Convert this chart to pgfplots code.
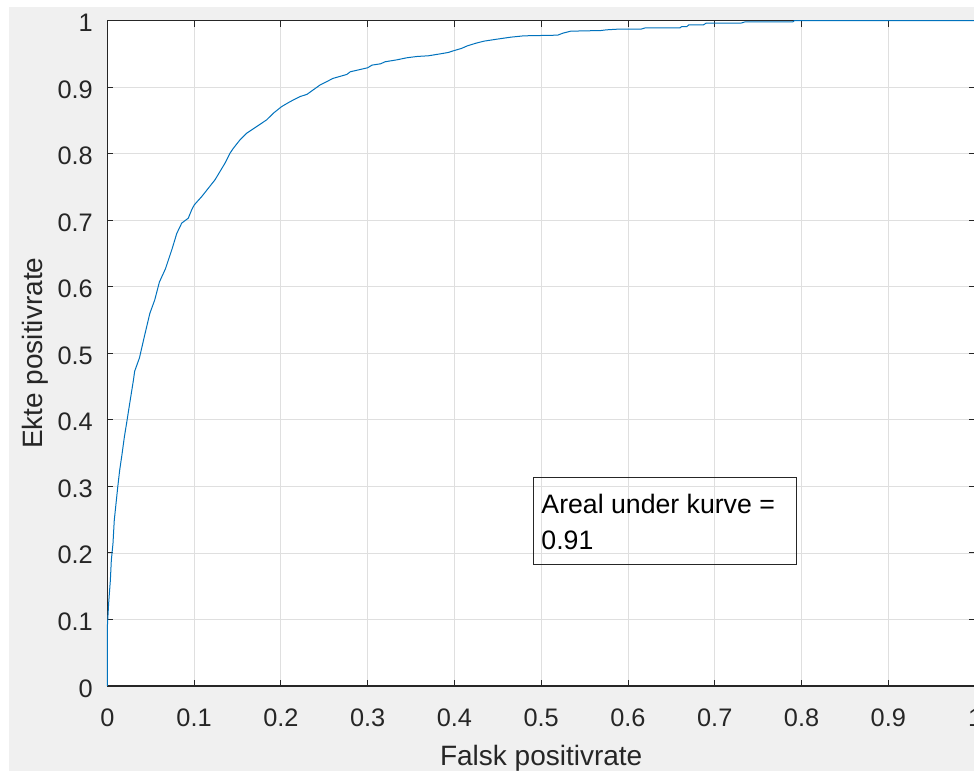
\documentclass[border=0pt]{standalone}
\usepackage{fontspec}
\setmainfont{Liberation Sans}
\usepackage{pgfplots}
\pgfplotsset{compat=1.18}

\definecolor{figgray}{HTML}{F0F0F0}
\definecolor{axisgray}{HTML}{262626}
\definecolor{gridgray}{HTML}{DFDFDF}
\definecolor{rocblue}{HTML}{0072BD}

\begin{document}
\begin{tikzpicture}
% figure background
\fill[white] (0,0) rectangle (730.5pt,578.25pt);
\fill[figgray] (6.75pt,0) rectangle (730.5pt,573pt);

\begin{axis}[
  at={(80.5pt,63.75pt)}, anchor=south west,
  scale only axis, width=650.8pt, height=499.1pt,
  xmin=0, xmax=1, ymin=0, ymax=1,
  axis background/.style={fill=white},
  xtick={0,0.1,0.2,0.3,0.4,0.5,0.6,0.7,0.8,0.9,1},
  ytick={0,0.1,0.2,0.3,0.4,0.5,0.6,0.7,0.8,0.9,1},
  xticklabels={0,0.1,0.2,0.3,0.4,0.5,0.6,0.7,0.8,0.9,1},
  yticklabels={0,0.1,0.2,0.3,0.4,0.5,0.6,0.7,0.8,0.9,1},
  grid=major,
  major grid style={color=gridgray, line width=0.6pt},
  tick align=inside, major tick length=4.5pt,
  tick style={color=axisgray, line width=0.7pt},
  axis line style={color=axisgray, line width=0.8pt},
  xticklabel style={font=\fontsize{19}{22}\selectfont, text=axisgray,
    anchor=base, inner sep=0pt, yshift=-30.5pt},
  yticklabel style={font=\fontsize{19}{22}\selectfont, text=axisgray,
    anchor=base east, inner sep=0pt, xshift=-10.7pt, yshift=-8.3pt},
  xlabel={Falsk positivrate},
  ylabel={Ekte positivrate},
  xlabel style={font=\fontsize{21}{24}\selectfont, text=axisgray,
    at={(axis description cs:0.5,-0.1198)}, anchor=base, inner sep=0pt},
  ylabel style={font=\fontsize{21}{24}\selectfont, text=axisgray,
    at={(axis description cs:-0.0745,0.5)}, anchor=base, inner sep=0pt},
  clip=false,
]
\addplot[color=rocblue, line width=0.75pt, line join=round] coordinates {
  (0,0) (0,0.088) (0.0015,0.124) (0.0035,0.159) (0.0046,0.189)
  (0.0065,0.214) (0.008,0.249) (0.010,0.274) (0.012,0.299)
  (0.0142,0.324) (0.017,0.349) (0.0196,0.374) (0.0227,0.399)
  (0.0257,0.424) (0.030,0.459) (0.0315,0.473) (0.037,0.493)
  (0.043,0.527) (0.049,0.56) (0.0546,0.58) (0.060,0.607)
  (0.067,0.627) (0.0749,0.658) (0.080,0.680) (0.0857,0.6955)
  (0.0933,0.703) (0.0972,0.7155) (0.1002,0.723) (0.1088,0.7355)
  (0.1164,0.748) (0.124,0.7605) (0.1298,0.773) (0.1356,0.7857)
  (0.1414,0.8007) (0.1452,0.808) (0.1529,0.8207) (0.1606,0.8307)
  (0.1721,0.8407) (0.1836,0.8507) (0.1913,0.8607) (0.2009,0.8707)
  (0.2105,0.878) (0.222,0.8857) (0.230,0.889) (0.245,0.903)
  (0.260,0.913) (0.276,0.919) (0.280,0.923) (0.300,0.929)
  (0.305,0.933) (0.315,0.935) (0.320,0.938) (0.334,0.941)
  (0.345,0.944) (0.357,0.946) (0.370,0.947) (0.384,0.950)
  (0.393,0.952) (0.400,0.955) (0.408,0.958) (0.415,0.962)
  (0.425,0.966) (0.434,0.969) (0.449,0.972) (0.465,0.975)
  (0.480,0.977) (0.519,0.978) (0.525,0.981) (0.534,0.984)
  (0.569,0.985) (0.575,0.986) (0.588,0.987) (0.615,0.987)
  (0.620,0.989) (0.660,0.989) (0.662,0.991) (0.668,0.991)
  (0.670,0.9935) (0.687,0.9935) (0.690,0.996) (0.730,0.996)
  (0.735,0.998) (0.790,0.998) (0.792,1) (1,1)
};
% annotation box with the area under the curve
\draw[color=axisgray, line width=0.6pt]
  (axis cs:0.4908,0.1834) rectangle (axis cs:0.7938,0.3141);
\node[anchor=base west, inner sep=0pt, text=black,
  font=\fontsize{20}{24}\selectfont] at (axis cs:0.5,0.2585) {Areal under kurve =};
\node[anchor=base west, inner sep=0pt, text=black,
  font=\fontsize{20}{24}\selectfont] at (axis cs:0.5,0.2055) {0.91};
\end{axis}

\pgfresetboundingbox
\useasboundingbox (0,0) rectangle (730.5pt,578.25pt);
\end{tikzpicture}
\end{document}
